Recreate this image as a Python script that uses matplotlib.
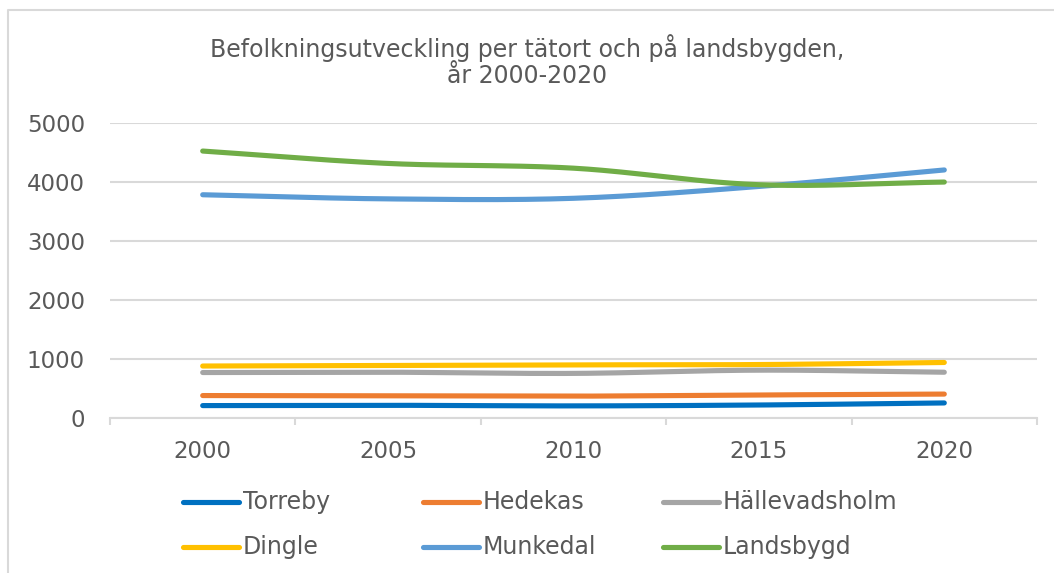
import matplotlib
matplotlib.use("Agg")
import matplotlib.pyplot as plt
import numpy as np
from matplotlib.lines import Line2D

years = ["2000", "2005", "2010", "2015", "2020"]

torreby = [210, 215, 205, 220, 255]
hedekas = [380, 375, 370, 390, 405]
hallevadsholm = [770, 775, 755, 810, 775]
dingle = [880, 890, 900, 905, 940]
munkedal = [3780, 3710, 3720, 3920, 4200]
landsbygd = [4520, 4310, 4230, 3950, 3995]

names = ["Torreby", "Hedekas", "Hällevadsholm", "Dingle", "Munkedal", "Landsbygd"]
series = [torreby, hedekas, hallevadsholm, dingle, munkedal, landsbygd]
colors = ["#0070C0", "#ED7D31", "#A5A5A5", "#FFC000", "#5B9BD5", "#70AD47"]

txt = "#595959"
grid = "#D9D9D9"


def smooth(x, y, n=40):
    # catmull-rom through the points, like a smoothed office line
    x = np.asarray(x, float)
    y = np.asarray(y, float)
    px = np.concatenate([[2 * x[0] - x[1]], x, [2 * x[-1] - x[-2]]])
    py = np.concatenate([[2 * y[0] - y[1]], y, [2 * y[-1] - y[-2]]])
    xs, ys = [], []
    t = np.linspace(0, 1, n)
    for i in range(1, len(px) - 2):
        for p, out in ((px, xs), (py, ys)):
            p0, p1, p2, p3 = p[i - 1], p[i], p[i + 1], p[i + 2]
            out.append(0.5 * ((2 * p1) + (-p0 + p2) * t
                              + (2 * p0 - 5 * p1 + 4 * p2 - p3) * t ** 2
                              + (-p0 + 3 * p1 - 3 * p2 + p3) * t ** 3))
    return np.concatenate(xs), np.concatenate(ys)


fig = plt.figure(figsize=(10.54, 5.73), dpi=100)
ax = fig.add_axes([110 / 1054, 1 - 418 / 573, (1037 - 110) / 1054, (418 - 122.7) / 573])

# chart frame, only the left and top edges fall inside the image
fx, fy = 8 / 1054, 1 - 10 / 573
fig.add_artist(Line2D([fx, fx, 1], [0, fy, fy], transform=fig.transFigure,
                      color=grid, linewidth=1.5))

x = np.arange(len(years))
for vals, c in zip(series, colors):
    sx, sy = smooth(x, vals)
    ax.plot(sx, sy, color=c, linewidth=3.7, solid_capstyle="round", zorder=3)

ax.set_xlim(-0.5, len(years) - 0.5)
ax.set_ylim(0, 5000)
ax.set_yticks(np.arange(0, 5001, 1000))
ax.yaxis.grid(True, color=grid, linewidth=1.5)
ax.set_axisbelow(True)
for s in ["top", "right", "left"]:
    ax.spines[s].set_visible(False)
ax.spines["bottom"].set_color(grid)
ax.spines["bottom"].set_linewidth(1.5)

ax.set_xticks(x)
ax.set_xticklabels(years)
ax.set_xticks(np.arange(-0.5, len(years)), minor=True)
ax.tick_params(axis="x", which="major", length=0, pad=16, labelsize=16.5, labelcolor=txt)
ax.tick_params(axis="x", which="minor", length=5, width=1.5, color=grid)
ax.tick_params(axis="y", length=0, pad=18, labelsize=16.5, labelcolor=txt)

fig.text(527 / 1054, 1 - 61 / 573, "Befolkningsutveckling per tätort och på landsbygden,\når 2000-2020",
         ha="center", va="center", fontsize=17, color=txt, linespacing=1.15)

# legend, three columns by two rows
col_x = [183, 423, 663]
row_y = [502, 547]
for i, (name, c) in enumerate(zip(names, colors)):
    cx = col_x[i % 3]
    ry = row_y[i // 3]
    fig.add_artist(Line2D([cx / 1054, (cx + 56) / 1054], [1 - ry / 573, 1 - ry / 573],
                          transform=fig.transFigure, color=c, linewidth=3.7,
                          solid_capstyle="round"))
    fig.text((cx + 60) / 1054, 1 - ry / 573, name, ha="left", va="center",
             fontsize=17, color=txt)

fig.savefig("out.png", dpi=100)
